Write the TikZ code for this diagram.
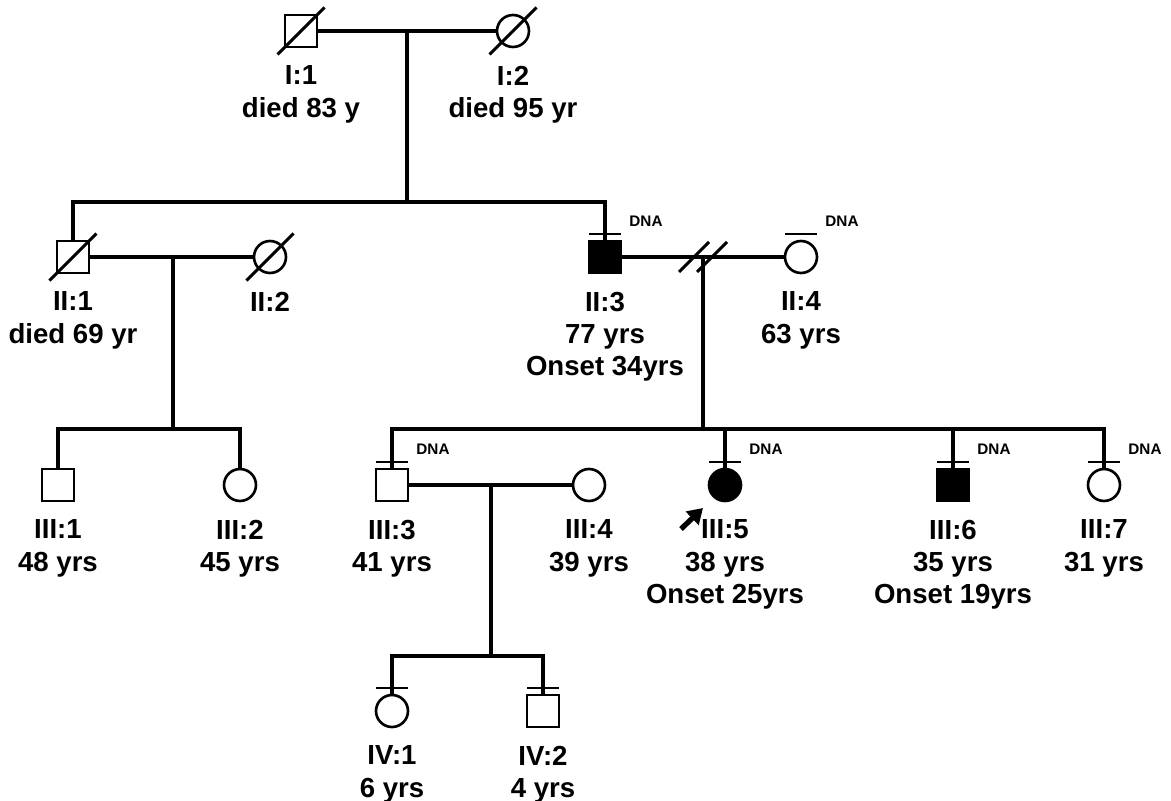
\documentclass[tikz,border=0pt]{standalone}
\usepackage{fontspec}
\setmainfont{Liberation Sans}
\usepackage{tikz}
\usetikzlibrary{positioning,arrows.meta}

% deceased slash, DNA-sampled bar and its label
\newcommand{\deceased}[1]{\draw ([shift={(-23.5,23.5)}]#1.center) -- ([shift={(23.5,-23.5)}]#1.center);}
\newcommand{\sampled}[1]{\draw[line width=1.4pt] ([shift={(-16,-23)}]#1.center) -- ([shift={(16,-23)}]#1.center);}
\newcommand{\dnamark}[1]{%
  \sampled{#1}
  \node[dnalabel] (dna-#1) at ([shift={(41,-36)}]#1.center) {DNA};}

\begin{document}
\begin{tikzpicture}[x=0.02cm, y=-0.02cm, line width=1.8pt,
  male/.style={draw, rectangle, minimum size=0.64cm, inner sep=0pt, line width=1.5pt},
  female/.style={draw, circle, minimum size=0.64cm, inner sep=0pt, line width=1.5pt},
  affected/.style={fill=black},
  plabel/.style={align=center, inner sep=0pt, font=\bfseries\fontsize{15.7}{18.4}\selectfont},
  dnalabel/.style={inner sep=0pt, font=\bfseries\fontsize{8.7}{10}\selectfont},
  proband/.style={line width=3pt, -{Triangle[length=0.3cm, width=0.36cm]}}]
  \useasboundingbox (0,0) rectangle (1171,801);

  % generation I
  \node[male] (I1) at (301,31) {};
  \node[female] (I2) at (513,31) {};
  \deceased{I1} \deceased{I2}
  \node[plabel, below=0.32cm of I1] (I1-lab) {I:1\\died 83 y};
  \node[plabel, below=0.32cm of I2] (I2-lab) {I:2\\died 95 yr};
  \coordinate (m1) at (407,31);
  \coordinate (s1) at (407,202);
  \draw (I1.east) -- (I2.west);
  \draw (m1) -- (s1);

  % generation II
  \node[male] (II1) at (73,257) {};
  \node[female] (II2) at (270,257) {};
  \node[male, affected] (II3) at (605,257) {};
  \node[female] (II4) at (801,257) {};
  \deceased{II1} \deceased{II2}
  \dnamark{II3} \dnamark{II4}
  \node[plabel, below=0.32cm of II1] (II1-lab) {II:1\\died 69 yr};
  \node[plabel, below=0.32cm of II2] (II2-lab) {II:2};
  \node[plabel, below=0.32cm of II3] (II3-lab) {II:3\\77 yrs\\Onset 34yrs};
  \node[plabel, below=0.32cm of II4] (II4-lab) {II:4\\63 yrs};
  \draw (II1.north) |- (s1) -| (II3.north);
  \coordinate (m2) at (173,257);
  \coordinate (s2) at (173,429);
  \coordinate (m3) at (703,257);
  \coordinate (s3) at (703,429);
  \draw (II1.east) -- (II2.west);
  \draw (II3.east) -- (II4.west);
  \draw ([shift={(-24,15)}]m3) -- ([shift={(6,-15)}]m3);
  \draw ([shift={(-6,15)}]m3) -- ([shift={(24,-15)}]m3);
  \draw (m2) -- (s2);
  \draw (m3) -- (s3);

  % generation III
  \node[male] (III1) at (58,485) {};
  \node[female] (III2) at (240,485) {};
  \node[male] (III3) at (392,485) {};
  \node[female] (III4) at (589,485) {};
  \node[female, affected] (III5) at (725,485) {};
  \node[male, affected] (III6) at (953,485) {};
  \node[female] (III7) at (1104,485) {};
  \dnamark{III3} \dnamark{III5} \dnamark{III6} \dnamark{III7}
  \node[plabel, below=0.32cm of III1] (III1-lab) {III:1\\48 yrs};
  \node[plabel, below=0.32cm of III2] (III2-lab) {III:2\\45 yrs};
  \node[plabel, below=0.32cm of III3] (III3-lab) {III:3\\41 yrs};
  \node[plabel, below=0.32cm of III4] (III4-lab) {III:4\\39 yrs};
  \node[plabel, below=0.32cm of III5] (III5-lab) {III:5\\38 yrs\\Onset 25yrs};
  \node[plabel, below=0.32cm of III6] (III6-lab) {III:6\\35 yrs\\Onset 19yrs};
  \node[plabel, below=0.32cm of III7] (III7-lab) {III:7\\31 yrs};
  \draw (III1.north) |- (s2) -| (III2.north);
  \draw (III3.north) |- (s3) -| (III7.north);
  \draw (III5.north) -- (III5.north |- s3);
  \draw (III6.north) -- (III6.north |- s3);
  \coordinate (prb-tail) at ([shift={(-44,44)}]III5.center);
  \coordinate (prb-tip) at ([shift={(-22,23)}]III5.center);
  \draw[proband] (prb-tail) -- (prb-tip);
  \coordinate (m4) at (491,485);
  \coordinate (s4) at (491,656);
  \draw (III3.east) -- (III4.west);
  \draw (m4) -- (s4);

  % generation IV
  \node[female] (IV1) at (392,711) {};
  \node[male] (IV2) at (543,711) {};
  \sampled{IV1} \sampled{IV2}
  \node[plabel, below=0.32cm of IV1] (IV1-lab) {IV:1\\6 yrs};
  \node[plabel, below=0.32cm of IV2] (IV2-lab) {IV:2\\4 yrs};
  \draw (IV1.north) |- (s4) -| (IV2.north);
\end{tikzpicture}
\end{document}
